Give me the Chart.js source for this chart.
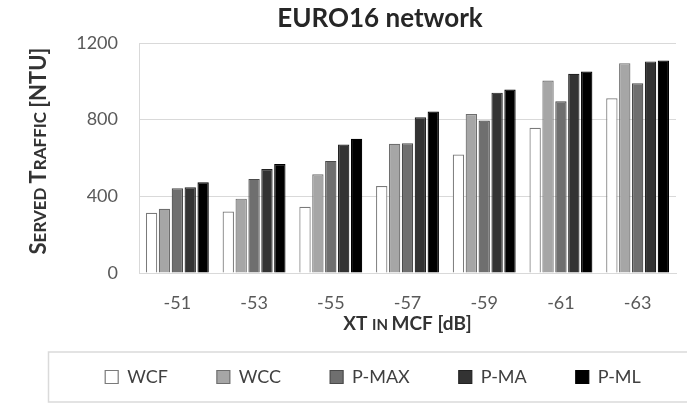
<!DOCTYPE html>
<html>
<head>
<meta charset="utf-8">
<script src="https://cdn.jsdelivr.net/npm/chart.js@4/dist/chart.umd.min.js"></script>
<style>
  html, body { margin: 0; padding: 0; background: #fff; }
  #wrap { width: 687px; height: 407px; position: relative; }
</style>
</head>
<body>
<div id="wrap"><canvas id="c" width="687" height="407"></canvas></div>
<script>
// Crosstalk levels (dB) on the category axis
const categories = ['-51', '-53', '-55', '-57', '-59', '-61', '-63'];

// Served traffic (NTU) per policy
const wcf  = [314, 321, 346, 454, 618, 758, 912];
const wcc  = [335, 388, 515, 674, 829, 1004, 1095];
const pMax = [442, 491, 585, 677, 796, 896, 990];
const pMa  = [447, 543, 670, 812, 941, 1039, 1104];
const pMl  = [473, 569, 700, 842, 957, 1051, 1109];

const yTicks = [0, 400, 800, 1200];

const FONT = 'Lato, "Open Sans", "Liberation Sans", sans-serif';

// Draws a run of text segments of differing sizes (small-caps style titles),
// centred on cx, with the baseline `base` px below cy (in the text's own frame)
function drawSegments(ctx, segs, cx, cy, base, rotate) {
  ctx.save();
  ctx.translate(cx, cy);
  if (rotate) ctx.rotate(-Math.PI / 2);
  ctx.fillStyle = '#333333';
  ctx.textBaseline = 'alphabetic';
  ctx.textAlign = 'left';
  let total = 0;
  const widths = segs.map(([t, s]) => {
    ctx.font = 'bold ' + s + 'px ' + FONT;
    const w = ctx.measureText(t).width;
    total += w;
    return w;
  });
  let x = -total / 2;
  segs.forEach(([t, s], i) => {
    ctx.font = 'bold ' + s + 'px ' + FONT;
    ctx.fillText(t, x, base);
    x += widths[i];
  });
  ctx.restore();
}

const axisTitles = {
  id: 'axisTitles',
  afterDraw(chart) {
    const { ctx, chartArea } = chart;
    drawSegments(ctx, [['S', 22], ['ERVED ', 17], ['T', 22], ['RAFFIC ', 17], ['[NTU]', 22]],
      38, (chartArea.top + chartArea.bottom) / 2 - 7, 8, true);
    drawSegments(ctx, [['XT ', 19], ['IN ', 15], ['MCF [dB]', 19]],
      (chartArea.left + chartArea.right) / 2, chartArea.bottom + 50, 7, false);
  }
};

// Title and legend are placed over their own bands; legend sits in a framed strip
const bandLayout = {
  id: 'bandLayout',
  afterLayout(chart) {
    const t = chart.titleBlock;
    t.left = 84; t.right = 676; t.width = t.right - t.left;
    const lg = chart.legend;
    lg.left = 48; lg.right = 698; lg.width = lg.right - lg.left;
  },
  beforeDraw(chart) {
    const { ctx } = chart;
    ctx.save();
    ctx.strokeStyle = '#dadada';
    ctx.lineWidth = 1.5;
    ctx.strokeRect(48.5, 352, 660, 50);
    ctx.restore();
  }
};

const seriesStyle = (label, data, fill, border) => ({
  label, data,
  backgroundColor: fill,
  borderColor: border,
  borderWidth: 1.2,
  categoryPercentage: 0.84,
  barPercentage: 0.88
});

new Chart(document.getElementById('c'), {
  type: 'bar',
  data: {
    labels: categories,
    datasets: [
      seriesStyle('WCF', wcf, '#ffffff', '#7a7a7a'),
      seriesStyle('WCC', wcc, '#a6a6a6', '#6e6e6e'),
      seriesStyle('P-MAX', pMax, '#6f6f6f', '#4a4a4a'),
      seriesStyle('P-MA', pMa, '#333333', '#222222'),
      seriesStyle('P-ML', pMl, '#000000', '#000000')
    ]
  },
  options: {
    responsive: false,
    animation: false,
    devicePixelRatio: 1,
    layout: { padding: { left: 0, right: 11, top: 0, bottom: 11 } },
    plugins: {
      title: {
        display: true,
        text: 'EURO16 network',
        color: '#262626',
        font: { family: FONT, size: 26, weight: 'bold' },
        padding: { top: 3.4, bottom: 8.4 }
      },
      legend: {
        display: true,
        position: 'bottom',
        labels: {
          color: '#404040',
          font: { family: FONT, size: 18 },
          boxWidth: 13,
          boxHeight: 13,
          padding: 49
        }
      },
      tooltip: { enabled: false }
    },
    scales: {
      x: {
        grid: { display: false, drawTicks: false },
        border: { display: true, color: '#d9d9d9', width: 1 },
        ticks: { color: '#595959', font: { family: FONT, size: 18 }, padding: 19 },
        afterFit(scale) { scale.height = 46; }
      },
      y: {
        min: 0,
        max: 1200,
        afterBuildTicks(scale) { scale.ticks = yTicks.map(v => ({ value: v })); },
        afterFit(scale) { scale.width = 139; },
        grid: { color: '#d9d9d9', lineWidth: 1, drawTicks: false },
        border: { display: true, color: '#d9d9d9', width: 1 },
        ticks: {
          color: '#595959',
          font: { family: FONT, size: 18 },
          padding: 21,
          callback: v => String(v)
        }
      }
    }
  },
  plugins: [bandLayout, axisTitles]
});
</script>
</body>
</html>
